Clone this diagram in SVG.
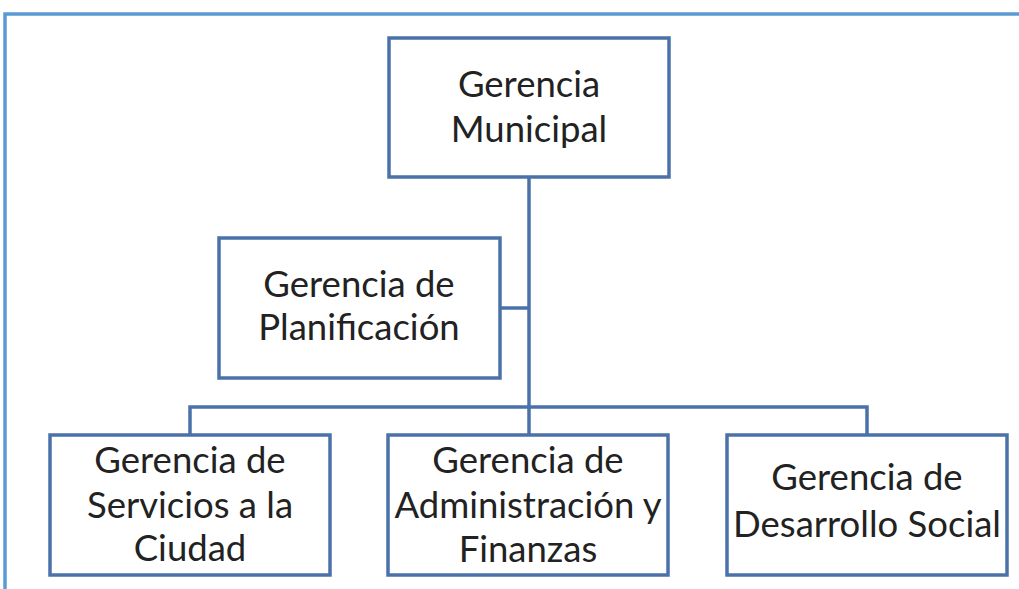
<svg xmlns="http://www.w3.org/2000/svg" width="1019" height="589" viewBox="0 0 1019 589">
<style>
.box{fill:#fff;stroke:#4a72a8;stroke-width:3.5}
.conn{fill:none;stroke:#4a72a8;stroke-width:3.5}
.frame{fill:none;stroke:#5b9bd5;stroke-width:3.5}
text{font-family:Lato,"Liberation Sans",sans-serif;font-size:36.5px;fill:#222;text-anchor:middle}
</style>
<rect width="1019" height="589" fill="#fff"/>
<path class="frame" d="M5,589 V14 H1019"/>
<g id="connectors">
<path class="conn" d="M529,177 V435"/>
<path class="conn" d="M500,308 H529"/>
<path class="conn" d="M190,435 V407 H867 V435"/>
</g>
<g id="gerencia-municipal">
<rect class="box" x="389" y="38" width="280" height="139"/>
<text x="529" y="97">Gerencia</text>
<text x="529" y="142">Municipal</text>
</g>
<g id="gerencia-planificacion">
<rect class="box" x="219" y="238" width="281" height="140"/>
<text x="359" y="297">Gerencia de</text>
<text x="359" y="340">Planificación</text>
</g>
<g id="gerencia-servicios">
<rect class="box" x="50" y="435" width="280" height="140"/>
<text x="190" y="473">Gerencia de</text>
<text x="190" y="518">Servicios a la</text>
<text x="190" y="561">Ciudad</text>
</g>
<g id="gerencia-administracion">
<rect class="box" x="388" y="435" width="280" height="140"/>
<text x="528" y="473">Gerencia de</text>
<text x="528" y="518">Administración y</text>
<text x="528" y="562">Finanzas</text>
</g>
<g id="gerencia-desarrollo">
<rect class="box" x="727" y="435" width="280" height="140"/>
<text x="867" y="490">Gerencia de</text>
<text x="867" y="537">Desarrollo Social</text>
</g>
</svg>
